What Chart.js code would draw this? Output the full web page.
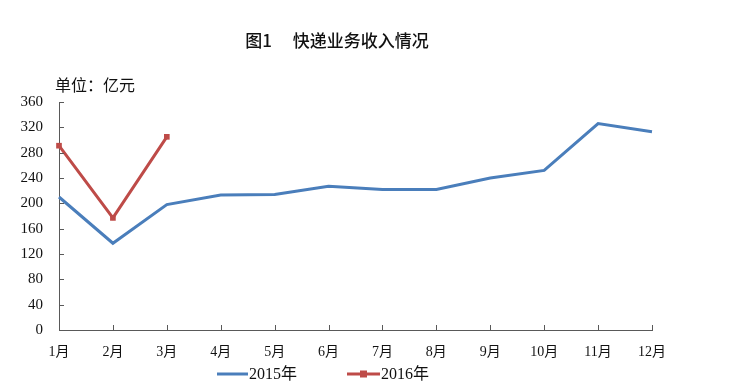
<!DOCTYPE html>
<html>
<head>
<meta charset="utf-8">
<script src="https://cdn.jsdelivr.net/npm/chart.js@4/dist/chart.umd.min.js"></script>
<style>
html,body{margin:0;padding:0;background:#fff;}
#wrap{width:729px;height:390px;position:relative;}
</style>
</head>
<body>
<div id="wrap"><canvas id="c" width="729" height="390"></canvas></div>
<script>
const months = ['1月','2月','3月','4月','5月','6月','7月','8月','9月','10月','11月','12月'];
const series2015 = [210, 137, 198, 213, 214, 227, 222, 222, 240, 252, 326, 313];
const series2016 = [291, 177, 305, null, null, null, null, null, null, null, null, null];
const yTicks = [0, 40, 80, 120, 160, 200, 240, 280, 320, 360];
const titleText = '图1\u3000 快递业务收入情况';
const unitText = '单位：亿元';
const legendNames = ['2015年', '2016年'];

const BLUE = '#4A7EBB';
const RED = '#BE4B48';
const AXIS = '#595959';
const SERIF = '"Liberation Serif","Times New Roman","Noto Sans CJK SC",serif';
const CJK = '"Noto Sans CJK SC","Noto Sans",sans-serif';

const decor = {
  id: 'decor',
  afterDraw(chart) {
    const ctx = chart.ctx;
    const xs = chart.scales.x, ys = chart.scales.y;
    ctx.save();
    // inward tick marks
    ctx.strokeStyle = AXIS;
    ctx.lineWidth = 1;
    ctx.beginPath();
    ys.ticks.forEach((t, i) => {
      const y = Math.round(ys.getPixelForTick(i)) + 0.5;
      ctx.moveTo(xs.left, y);
      ctx.lineTo(xs.left + 5, y);
    });
    xs.ticks.forEach((t, i) => {
      const x = Math.round(xs.getPixelForTick(i)) + 0.5;
      ctx.moveTo(x, ys.bottom);
      ctx.lineTo(x, ys.bottom - 5);
    });
    ctx.stroke();
    // title
    ctx.fillStyle = '#111';
    ctx.font = '500 17px ' + CJK;
    ctx.textAlign = 'center';
    ctx.textBaseline = 'middle';
    ctx.fillText(titleText, 337, 41);
    // unit
    ctx.font = '16px ' + CJK;
    ctx.textAlign = 'left';
    ctx.fillText(unitText, 55, 85);
    // legend
    const ly = 374;
    ctx.lineWidth = 3;
    ctx.strokeStyle = BLUE;
    ctx.beginPath(); ctx.moveTo(217, ly); ctx.lineTo(248, ly); ctx.stroke();
    ctx.strokeStyle = RED;
    ctx.beginPath(); ctx.moveTo(347, ly); ctx.lineTo(380, ly); ctx.stroke();
    ctx.fillStyle = RED;
    ctx.fillRect(360, ly - 3.5, 7, 7);
    ctx.fillStyle = '#111';
    ctx.font = '16px ' + SERIF;
    ctx.textBaseline = 'middle';
    ctx.fillText(legendNames[0], 249, ly + 1);
    ctx.fillText(legendNames[1], 381, ly + 1);
    ctx.restore();
  }
};

new Chart(document.getElementById('c'), {
  type: 'line',
  data: {
    labels: months,
    datasets: [
      {
        label: legendNames[0],
        data: series2015,
        borderColor: BLUE,
        backgroundColor: BLUE,
        borderWidth: 3,
        pointRadius: 0,
        tension: 0,
        order: 2
      },
      {
        label: legendNames[1],
        data: series2016,
        borderColor: RED,
        backgroundColor: RED,
        borderWidth: 3,
        pointStyle: 'rect',
        pointRadius: 4,
        pointBorderWidth: 0,
        spanGaps: false,
        tension: 0,
        order: 1
      }
    ]
  },
  options: {
    responsive: false,
    animation: false,
    events: [],
    layout: { padding: { left: 0, right: 77, top: 102, bottom: 0 } },
    plugins: {
      legend: { display: false },
      title: { display: false },
      tooltip: { enabled: false }
    },
    scales: {
      x: {
        type: 'category',
        offset: false,
        afterFit(s) { s.height = 60; },
        grid: { display: true, drawOnChartArea: false, drawTicks: false },
        border: { display: true, color: AXIS, width: 1 },
        ticks: {
          padding: 14,
          color: '#111',
          maxRotation: 0,
          autoSkip: false,
          font: { family: SERIF, size: 14 }
        }
      },
      y: {
        min: 0,
        max: 360,
        afterFit(s) { s.width = 59; },
        afterBuildTicks(s) { s.ticks = yTicks.map(v => ({ value: v })); },
        grid: { display: true, drawOnChartArea: false, drawTicks: false },
        border: { display: true, color: AXIS, width: 1 },
        ticks: {
          padding: 16,
          color: '#111',
          font: { family: SERIF, size: 15 }
        }
      }
    }
  },
  plugins: [decor]
});
</script>
</body>
</html>
